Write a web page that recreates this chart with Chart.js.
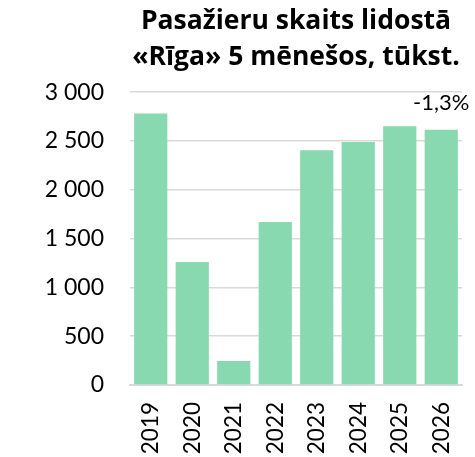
<!DOCTYPE html>
<html>
<head>
<meta charset="utf-8">
<script src="https://cdn.jsdelivr.net/npm/chart.js@4.4.1/dist/chart.umd.min.js"></script>
<style>
  html, body { margin: 0; padding: 0; background: #fff; overflow: hidden; }
  #wrap { width: 475px; height: 457px; position: relative; }
  canvas { display: block; }
</style>
</head>
<body>
<div id="wrap"><canvas id="chart"></canvas></div>
<script>
// dati
const years = ['2019', '2020', '2021', '2022', '2023', '2024', '2025', '2026'];
const passengers = [2780, 1260, 245, 1670, 2405, 2490, 2650, 2615];
const yTicks = [0, 500, 1000, 1500, 2000, 2500, 3000];
const changeLabel = '-1,3%';
const titleLines = ['Pasažieru skaits lidostā', '«Rīga» 5 mēnešos, tūkst.'];

const FONT = 'Lato, "DejaVu Sans", sans-serif';

// tūkstošu atdalītājs ar atstarpi
function formatNum(v) {
    return String(v).replace(/\B(?=(\d{3})+(?!\d))/g, ' ');
}

// uzraksts virs pēdējā stabiņa
const changePlugin = {
    id: 'changeLabel',
    afterDatasetsDraw(chart) {
        const meta = chart.getDatasetMeta(0);
        const bar = meta.data[meta.data.length - 1];
        const ctx = chart.ctx;
        ctx.save();
        ctx.font = '22px ' + FONT;
        ctx.fillStyle = '#000';
        ctx.textAlign = 'center';
        ctx.textBaseline = 'middle';
        ctx.fillText(changeLabel, bar.x, bar.y - 27);
        ctx.restore();
    }
};

new Chart(document.getElementById('chart'), {
    type: 'bar',
    data: {
        labels: years,
        datasets: [{
            data: passengers,
            backgroundColor: '#88d9b0',
            borderWidth: 0,
            barPercentage: 0.8,
            categoryPercentage: 1
        }]
    },
    options: {
        responsive: true,
        maintainAspectRatio: false,
        animation: false,
        layout: { padding: { left: 0, right: 13, top: 3, bottom: 0 } },
        plugins: {
            legend: { display: false },
            tooltip: { enabled: false },
            title: {
                display: true,
                text: titleLines,
                fullSize: false,
                color: '#000',
                font: { family: '"Open Sans", Lato, sans-serif', size: 26.5, weight: 'bold', lineHeight: 1.38 },
                padding: { top: 0, bottom: 16 }
            }
        },
        scales: {
            x: {
                grid: { display: false, drawTicks: false },
                border: { color: '#d9d9d9', width: 2 },
                ticks: {
                    color: '#000',
                    font: { family: FONT, size: 22.5 },
                    maxRotation: 90,
                    minRotation: 90,
                    padding: 17
                },
                afterFit(scale) {
                    scale.height = 72;
                    scale.paddingLeft = 0;
                    scale.paddingRight = 0;
                }
            },
            y: {
                min: 0,
                max: 3000,
                afterBuildTicks(scale) {
                    scale.ticks = yTicks.map(v => ({ value: v }));
                },
                grid: { color: '#d9d9d9', lineWidth: 1.5, drawTicks: false },
                border: { display: false },
                ticks: {
                    color: '#000',
                    font: { family: FONT, size: 23 },
                    padding: 26,
                    callback: v => formatNum(v)
                },
                afterFit(scale) { scale.width = 130; }
            }
        }
    },
    plugins: [changePlugin]
});
</script>
</body>
</html>
